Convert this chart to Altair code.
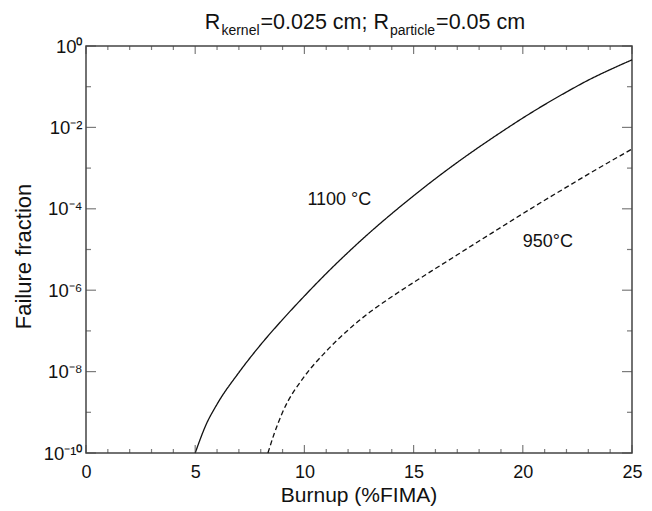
import altair as alt
import pandas as pd

# ---- data ----
burnup_1100 = [5, 5.5, 6, 7, 8, 9, 10, 11, 12, 13, 14, 15, 16, 17, 18, 19, 20, 21, 22, 23, 24, 25]
ff_1100 = [1e-10, 5.0e-10, 1.58e-9, 9.5e-9, 4.6e-8, 1.9e-7, 7.2e-7, 2.57e-6, 8.5e-6, 2.63e-5,
           7.6e-5, 2.09e-4, 5.5e-4, 1.38e-3, 3.3e-3, 7.6e-3, 1.7e-2, 3.63e-2, 7.4e-2, 0.145,
           0.263, 0.457]

burnup_950 = [8.33, 8.6, 9, 10, 11, 12, 13, 14, 15, 16, 17, 18, 19, 20, 21, 22, 23, 24, 25]
ff_950 = [1e-10, 2.8e-10, 1.0e-9, 7.6e-9, 3.16e-8, 1.05e-7, 2.9e-7, 6.9e-7, 1.55e-6, 3.4e-6,
          7.4e-6, 1.62e-5, 3.5e-5, 7.6e-5, 1.62e-4, 3.4e-4, 7.1e-4, 1.45e-3, 2.95e-3]

x_major = [0, 5, 10, 15, 20, 25]
x_minor = [1, 2, 3, 4, 6, 7, 8, 9, 11, 12, 13, 14, 16, 17, 18, 19, 21, 22, 23, 24]
y_major = [1, 1e-2, 1e-4, 1e-6, 1e-8, 1e-10]
y_major_labels = ["10⁰", "10⁻²", "10⁻⁴", "10⁻⁶", "10⁻⁸", "10⁻¹⁰"]
y_minor = [1e-1, 1e-3, 1e-5, 1e-7, 1e-9]

label_text = ["1100 °C", "950°C"]
label_x = [11.6, 21.15]
label_y = [1.66e-4, 1.5e-5]

x_title = "Burnup (%FIMA)"
y_title = "Failure fraction"
title_main = ["R", "=0.025 cm; R", "=0.05 cm"]
title_sub = ["kernel", "particle"]

# ---- build tables ----
curves = pd.DataFrame(
    {"burnup": burnup_1100 + burnup_950,
     "ff": ff_1100 + ff_950,
     "series": ["1100"] * len(burnup_1100) + ["950"] * len(burnup_950)}
)
xmaj = pd.DataFrame({"xv": x_major})
xmin = pd.DataFrame({"xv": x_minor})
ymaj = pd.DataFrame({"yv": y_major})
ymin = pd.DataFrame({"yv": y_minor})
labels = pd.DataFrame({"t": label_text, "x": label_x, "y": label_y})

W, H = 546, 407
FONT = "Liberation Sans"
INK = "#111111"
FRAME = "#444444"

xscale = alt.Scale(domain=[0, 25], nice=False, zero=False)
yscale = alt.Scale(type="log", domain=[1e-10, 1], nice=False)

label_expr = ""
for v, lab in zip(y_major, y_major_labels):
    label_expr += f"datum.value > {v * 0.5} ? '{lab}' : "
label_expr += "''"

base = alt.Chart(curves)

lines = base.mark_line(color=INK, strokeWidth=1.3, interpolate="monotone").encode(
    x=alt.X("burnup:Q", scale=xscale, title="",
            axis=alt.Axis(values=x_major, ticks=False, domain=False,
                          grid=False, labelFontSize=18, labelFont=FONT, labelColor=INK,
                          labelPadding=10, labelFlush=False)),
    y=alt.Y("ff:Q", scale=yscale, title="",
            axis=alt.Axis(values=y_major, labelExpr=label_expr,
                          ticks=False, domain=False, grid=False, labelFontSize=18.5,
                          labelFont=FONT, labelColor=INK, labelPadding=4, labelFlush=False)),
    strokeDash=alt.StrokeDash("series:N", scale=alt.Scale(domain=["1100", "950"],
                                                           range=[[1, 0], [5, 3]]), legend=None),
    detail="series:N",
)


def xticks(df, length):
    b = alt.Chart(df).mark_tick(color=FRAME, thickness=1.2, size=length, orient="vertical")
    bottom = b.encode(x=alt.X("xv:Q", scale=xscale), y=alt.value(H - length / 2))
    top = b.encode(x=alt.X("xv:Q", scale=xscale), y=alt.value(length / 2))
    return [bottom, top]


def yticks(df, length):
    b = alt.Chart(df).mark_tick(color=FRAME, thickness=1.2, size=length, orient="horizontal")
    left = b.encode(y=alt.Y("yv:Q", scale=yscale), x=alt.value(length / 2))
    right = b.encode(y=alt.Y("yv:Q", scale=yscale), x=alt.value(W - length / 2))
    return [left, right]


tick_layers = xticks(xmaj, 8) + xticks(xmin, 4) + yticks(ymaj, 10) + yticks(ymin, 5)

ann = alt.Chart(labels).mark_text(fontSize=18, font=FONT, color=INK, align="center",
                                  baseline="middle").encode(
    x=alt.X("x:Q", scale=xscale), y=alt.Y("y:Q", scale=yscale), text="t:N")

# axis titles
xt = alt.Chart(pd.DataFrame({"t": [x_title]})).mark_text(
    fontSize=21, font=FONT, color=INK, align="center", baseline="alphabetic"
).encode(text="t:N", x=alt.value(W / 2), y=alt.value(H + 49))
yt = alt.Chart(pd.DataFrame({"t": [y_title]})).mark_text(
    fontSize=22, font=FONT, color=INK, align="center", baseline="middle", angle=270
).encode(text="t:N", x=alt.value(-62), y=alt.value(H / 2 + 7))

# title with subscripts, built from text pieces (Arial/Liberation advance widths)
MAIN, SUB = 21.5, 14
GAP = 1.0
w_R, w_k, w_mid, w_p = 0.722 * MAIN, 2.723 * SUB, 5.975 * MAIN, 3.223 * SUB
w_end = 4.141 * MAIN
total = w_R + w_k + w_mid + w_p + w_end + 4 * GAP
x0 = W / 2 + 6 - total / 2
pos_main = [x0, x0 + w_R + w_k + 2 * GAP, x0 + w_R + w_k + w_mid + w_p + 4 * GAP]
pos_sub = [x0 + w_R + GAP, x0 + w_R + w_k + w_mid + 3 * GAP]

title_layers = []
for t, px in zip(title_main, pos_main):
    title_layers.append(
        alt.Chart(pd.DataFrame({"t": [t]})).mark_text(fontSize=MAIN, font=FONT, color=INK,
                                                      align="left", baseline="alphabetic")
        .encode(text="t:N", x=alt.value(px), y=alt.value(-17)))
for t, px in zip(title_sub, pos_sub):
    title_layers.append(
        alt.Chart(pd.DataFrame({"t": [t]})).mark_text(fontSize=SUB, font=FONT, color=INK,
                                                      align="left", baseline="alphabetic")
        .encode(text="t:N", x=alt.value(px), y=alt.value(-11)))

chart = alt.layer(lines, *tick_layers, ann, xt, yt, *title_layers).properties(
    width=W, height=H,
    autosize=alt.AutoSizeParams(type="none"),
    padding={"left": 86, "top": 46, "right": 20, "bottom": 58},
    background="white",
).configure_view(stroke=FRAME, strokeWidth=1.5)

chart.save("out.html", embed_options={"renderer": "svg", "actions": False})
